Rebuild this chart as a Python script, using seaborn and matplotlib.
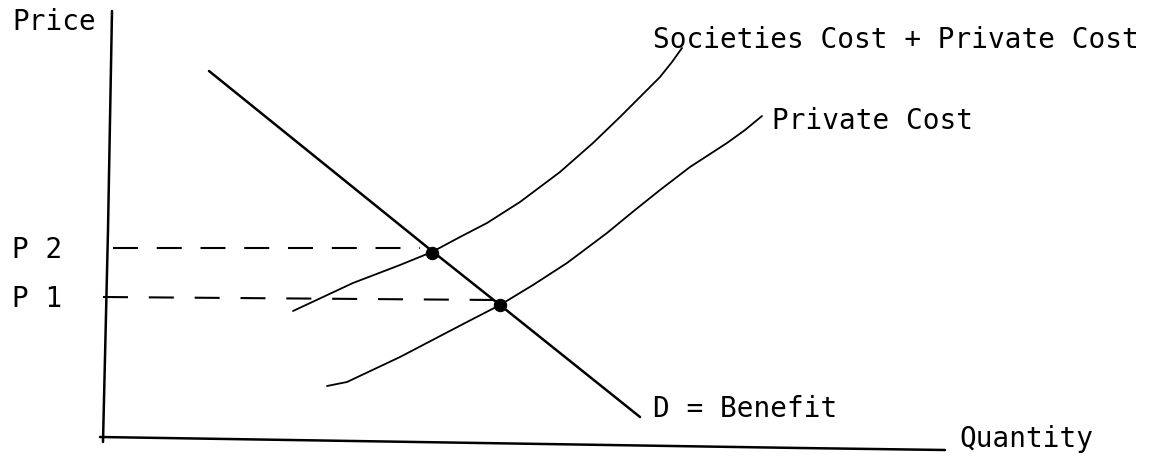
import matplotlib
matplotlib.use("Agg")
import matplotlib.pyplot as plt
import seaborn as sns
import pandas as pd

# ---- data (quantity / price in chart units) ----
demand_q = [209, 432, 500, 640]
demand_p = [388, 208, 154, 42]

social_q = [293, 353, 400, 432, 460, 487, 520, 560, 593, 620, 637, 660, 672, 682]
social_p = [148, 176, 194, 207, 222, 236, 257, 287, 316, 342, 359, 382, 397, 411]

private_q = [327, 347, 400, 467, 500, 533, 567, 607, 635, 660, 690, 727, 745, 762]
private_p = [73, 77, 102, 137, 154, 174, 196, 226, 249, 269, 292, 316, 329, 343]

p2_q = [113, 420]
p2_p = [211, 211]
p1_q = [103, 495]
p1_p = [162, 159]

eq_q = [432, 500]
eq_p = [206, 154]

yaxis_q = [112, 108, 103]
yaxis_p = [448, 229, 17]
xaxis_q = [100, 480, 800, 945]
xaxis_p = [22, 16, 11, 9]

sns.set_style("white")
plt.rcParams['font.family'] = ['DejaVu Sans Mono', 'DejaVu Sans']
plt.rcParams['text.color'] = 'black'

fig = plt.figure(figsize=(11.54, 4.59), dpi=100)
ax = fig.add_axes([0, 0, 1, 1])

def line(q, p, lw=1.6, **kw):
    sns.lineplot(x=q, y=p, ax=ax, color="black", lw=lw, sort=False,
                 estimator=None, legend=False, **kw)

line(yaxis_q, yaxis_p, lw=1.8)
line(xaxis_q, xaxis_p, lw=1.8)
line(demand_q, demand_p, lw=1.8)
line(social_q, social_p, lw=1.3)
line(private_q, private_p, lw=1.3)
line(p2_q, p2_p, lw=1.5, linestyle=(0, (12, 9)))
line(p1_q, p1_p, lw=1.5, linestyle=(0, (12, 10)))

sns.scatterplot(x=eq_q, y=eq_p, ax=ax, color="black", s=80, edgecolor="black",
                legend=False, zorder=5)

fs = 20
kw = dict(fontsize=fs, color="black", ha="left")
ax.text(12, 429, "Price", va="baseline", **kw)
ax.text(12, 209, "P 2", va="center", **kw)
ax.text(12, 160, "P 1", va="center", **kw)
ax.text(653, 411, "Societies Cost + Private Cost", va="baseline", **kw)
ax.text(772, 330, "Private Cost", va="baseline", **kw)
ax.text(653, 42, "D = Benefit", va="baseline", **kw)
ax.text(959, 12, "Quantity", va="baseline", **kw)

ax.set_xlim(0, 1154)
ax.set_ylim(0, 459)
ax.set_axis_off()

fig.savefig("out.png", dpi=100, facecolor="white")
